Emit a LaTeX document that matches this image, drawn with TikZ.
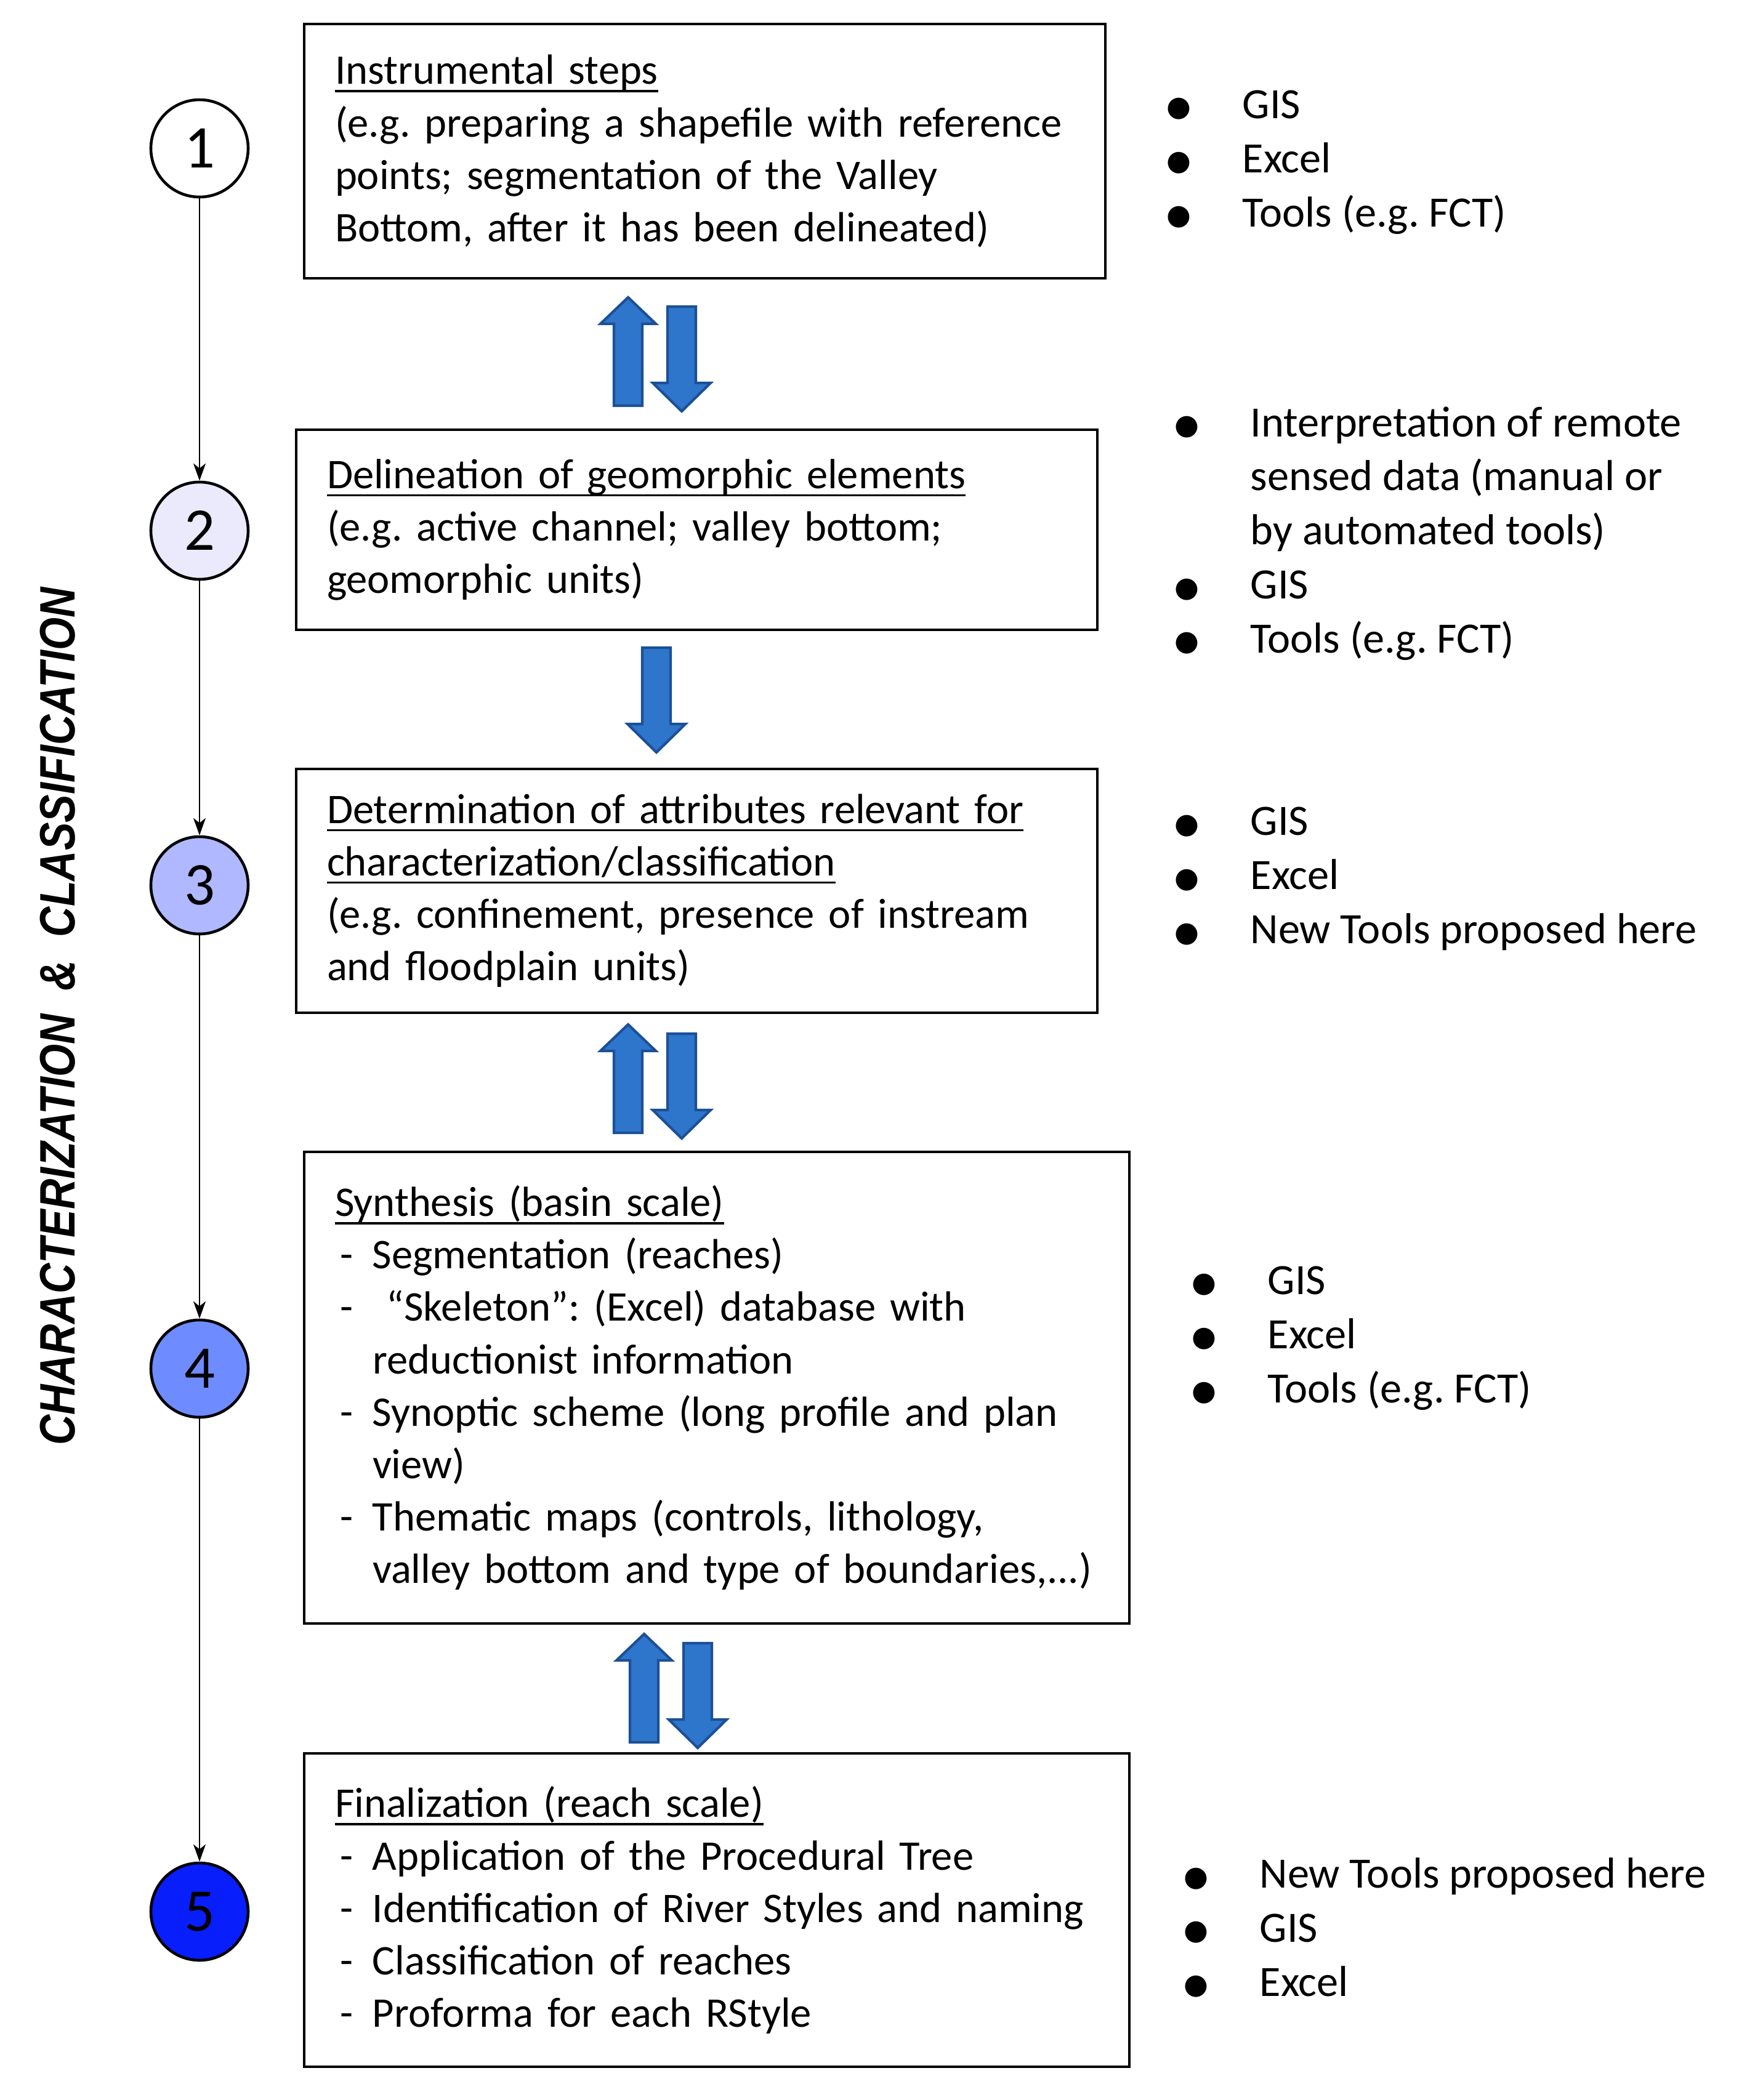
\documentclass[tikz,border=0pt]{standalone}
\usepackage{fontspec}
\setmainfont{Carlito}
\newfontfamily\titlefont{Liberation Sans}
\newfontfamily\dotfont{DejaVu Sans}
\usetikzlibrary{arrows.meta,positioning}
\definecolor{arrowfill}{RGB}{46,117,204}
\definecolor{arrowline}{RGB}{28,80,150}
\definecolor{stagetwo}{RGB}{234,234,252}
\definecolor{stagethree}{RGB}{176,184,255}
\definecolor{stagefour}{RGB}{110,140,255}
\definecolor{stagefive}{RGB}{8,30,250}
\newcommand{\undertext}[1]{\leavevmode\begingroup\setbox0\hbox{#1}\rlap{\rule[-3.6pt]{\wd0}{0.9pt}}\box0\endgroup}
\newcommand{\bul}{\makebox[1.23cm][l]{\raisebox{1pt}{\dotfont\fontsize{13}{13}\selectfont ●}}}
\newcommand{\cont}{\hspace*{1.23cm}}
\newcommand{\dashitem}{\makebox[0.61cm][l]{\hspace{0.08cm}-}}
\newcommand{\dashcont}{\hspace*{0.61cm}}
\frenchspacing

\begin{document}
\begin{tikzpicture}[
    font=\fontsize{19.5}{24.2}\selectfont,
    stagebox/.style={draw, line width=1pt, inner xsep=0.5cm, inner ysep=0pt, align=left,
      execute at begin node={\hyphenpenalty=10000\relax}},
    stagecirc/.style={circle, draw, line width=1.3pt, minimum size=1.58cm, inner sep=0pt, font=\fontsize{28}{30}\selectfont},
    toollist/.style={inner sep=0pt, align=left, anchor=west, font=\fontsize{20}{25}\selectfont},
    flowline/.style={-{Stealth[length=0.28cm, width=0.2cm, inset=0.08cm]}, line width=0.7pt},
    blockarrow/.style={fill=arrowfill, draw=arrowline, line width=1.2pt, line join=miter},
    uparr/.pic={\path[blockarrow] (0,0) -- (0.45,-0.43) -- (0.23,-0.43) -- (0.23,-1.76) -- (-0.23,-1.76) -- (-0.23,-0.43) -- (-0.45,-0.43) -- cycle;},
    dnarr/.pic={\path[blockarrow] (0,0) -- (0.47,0.46) -- (0.23,0.46) -- (0.23,1.70) -- (-0.23,1.70) -- (-0.23,0.46) -- (-0.47,0.46) -- cycle;}
]
\useasboundingbox (0,0) rectangle (28.37,-34.11);

% stages
\node[stagebox, text width=12.01cm, minimum height=4.13cm] (b1) at (11.445,-2.455)
  {\undertext{Instrumental steps}\\
   (e.g. preparing a shapefile with reference\\
   points; segmentation of the Valley\\
   Bottom, after it has been delineated)};
\node[stagebox, text width=12.01cm, minimum height=3.25cm] (b2) at (11.315,-8.605)
  {\undertext{Delineation of geomorphic elements}\\
   (e.g. active channel; valley bottom;\\
   geomorphic units)};
\node[stagebox, text width=12.01cm, minimum height=3.96cm] (b3) at (11.315,-14.47)
  {\undertext{Determination of attributes relevant for}\\
   \undertext{characterization/classification}\\
   (e.g. confinement, presence of instream\\
   and floodplain units)};
\node[stagebox, text width=12.40cm, minimum height=7.66cm] (b4) at (11.64,-22.54)
  {\undertext{Synthesis (basin scale)}\\
   \dashitem Segmentation (reaches)\\
   \dashitem\ “Skeleton”: (Excel) database with\\
   \dashcont reductionist information\\
   \dashitem Synoptic scheme (long profile and plan\\
   \dashcont view)\\
   \dashitem Thematic maps (controls, lithology,\\
   \dashcont valley bottom and type of boundaries,...)};
\node[stagebox, text width=12.40cm, minimum height=5.09cm] (b5) at (11.64,-31.025)
  {\undertext{Finalization (reach scale)}\\
   \dashitem Application of the Procedural Tree\\
   \dashitem Identification of River Styles and naming\\
   \dashitem Classification of reaches\\
   \dashitem Proforma for each RStyle};

% numbered circles
\node[stagecirc, fill=white] (c1) at (3.24,-2.41) {1};
\node[stagecirc, fill=stagetwo] (c2) at (3.24,-8.62) {2};
\node[stagecirc, fill=stagethree] (c3) at (3.24,-14.38) {3};
\node[stagecirc, fill=stagefour] (c4) at (3.24,-22.23) {4};
\node[stagecirc, fill=stagefive] (c5) at (3.24,-31.05) {5};

\foreach \i/\j in {c1/c2, c2/c3, c3/c4, c4/c5}
  \draw[flowline] (\i) -- (\j);

\node[rotate=90, font=\titlefont\bfseries\itshape\fontsize{23}{23}\selectfont] (title) at (0.94,-16.51)
  {\scalebox{0.845}[1]{CHARACTERIZATION \ \& \ CLASSIFICATION}};

% tools
\node[toollist] (l1) at (18.94,-2.635) {\bul GIS\\ \bul Excel\\ \bul Tools (e.g. FCT)};
\node[toollist] (l2) at (19.07,-8.665) {\bul Interpretation of remote\\ \cont sensed data (manual or\\ \cont by automated tools)\\ \bul GIS\\ \bul Tools (e.g. FCT)};
\node[toollist] (l3) at (19.07,-14.275) {\bul GIS\\ \bul Excel\\ \bul New Tools proposed here};
\node[toollist] (l4) at (19.35,-21.735) {\bul GIS\\ \bul Excel\\ \bul Tools (e.g. FCT)};
\node[toollist] (l5) at (19.22,-31.31) {\bul New Tools proposed here\\ \bul GIS\\ \bul Excel};

% block arrows
\pic at (10.20,-4.83) {uparr};
\pic at (11.07,-6.68) {dnarr};
\pic at (10.66,-12.22) {dnarr};
\pic at (10.20,-16.64) {uparr};
\pic at (11.07,-18.49) {dnarr};
\pic at (10.46,-26.54) {uparr};
\pic at (11.33,-28.39) {dnarr};
\end{tikzpicture}
\end{document}
